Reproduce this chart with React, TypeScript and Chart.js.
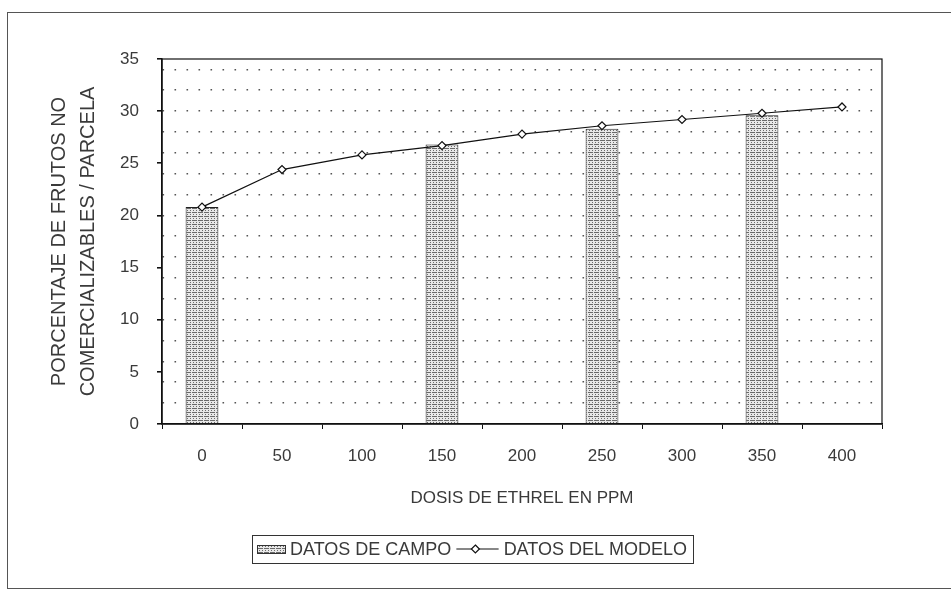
import React, { useEffect, useRef } from "react";
import { Chart, registerables } from "chart.js";

Chart.register(...registerables);

const categories = ["0", "50", "100", "150", "200", "250", "300", "350", "400"];
const fieldData = [20.8, null, null, 26.8, null, 28.3, null, 29.6, null];
const modelData = [20.8, 24.4, 25.8, 26.7, 27.8, 28.6, 29.2, 29.8, 30.4];
const fieldLabel = "DATOS DE CAMPO";
const modelLabel = "DATOS DEL MODELO";
const xTitle = "DOSIS DE ETHREL EN PPM";
const yTitle = ["PORCENTAJE DE FRUTOS NO", "COMERCIALIZABLES / PARCELA"];
const yMin = 0;
const yMax = 35;

const FONT = "'Liberation Sans', Arial, sans-serif";
const TEXT = "#3a3a3a";

function makePattern(): CanvasPattern | string {
  const c = document.createElement("canvas");
  c.width = 6;
  c.height = 4;
  const g = c.getContext("2d");
  if (!g) return "#ddd";
  g.fillStyle = "#e8e8e8";
  g.fillRect(0, 0, 6, 4);
  g.fillStyle = "#6a6a6a";
  g.fillRect(0, 0, 5, 1);
  g.fillRect(1, 2, 1, 1);
  g.fillRect(4, 2, 1, 1);
  const p = g.createPattern(c, "repeat");
  return p || "#ddd";
}

const areaBorder = {
  id: "areaBorder",
  afterDatasetsDraw(chart: any) {
    const { ctx, chartArea: a } = chart;
    ctx.save();
    ctx.strokeStyle = "#111";
    ctx.lineWidth = 1.2;
    ctx.strokeRect(a.left, a.top, a.right - a.left, a.bottom - a.top);
    ctx.restore();
  },
};

const boxLegend = {
  id: "boxLegend",
  afterDraw(chart: any) {
    const { ctx } = chart;
    const ds = chart.data.datasets;
    const x0 = 252, y0 = 535, w = 441, h = 28;
    const cy = y0 + h / 2;
    ctx.save();
    ctx.strokeStyle = "#333";
    ctx.lineWidth = 1;
    ctx.strokeRect(x0 + 0.5, y0 + 0.5, w, h);
    ctx.font = `18px ${FONT}`;
    ctx.textBaseline = "middle";
    const t1 = ctx.measureText(ds[0].label).width;
    const t2 = ctx.measureText(ds[1].label).width;
    const sw = 28;
    const gap = 5;
    const symLen = Math.max(24, w - 5 - sw - gap - t1 - gap - gap - t2 - 6);
    let x = x0 + 5;
    ctx.fillStyle = ds[0].backgroundColor;
    ctx.fillRect(x, cy - 4, sw, 8);
    ctx.strokeStyle = "#333";
    ctx.strokeRect(x + 0.5, cy - 4 + 0.5, sw, 8);
    x += sw + gap;
    ctx.fillStyle = TEXT;
    ctx.fillText(ds[0].label, x, cy + 1);
    x += t1 + gap;
    ctx.strokeStyle = "#111";
    ctx.lineWidth = 1.2;
    ctx.beginPath();
    ctx.moveTo(x, cy);
    ctx.lineTo(x + symLen, cy);
    ctx.stroke();
    ctx.fillStyle = "#fff";
    ctx.beginPath();
    const mx = x + symLen * 0.45;
    ctx.moveTo(mx, cy - 4);
    ctx.lineTo(mx + 4, cy);
    ctx.lineTo(mx, cy + 4);
    ctx.lineTo(mx - 4, cy);
    ctx.closePath();
    ctx.fill();
    ctx.stroke();
    x += symLen + gap;
    ctx.fillStyle = TEXT;
    ctx.fillText(ds[1].label, x, cy + 1);
    ctx.restore();
  },
};

export default function App() {
  const ref = useRef<HTMLCanvasElement | null>(null);

  useEffect(() => {
    if (!ref.current) return;
    const pattern = makePattern();
    const chart = new Chart(ref.current, {
      data: {
        labels: categories,
        datasets: [
          {
            type: "bar",
            label: fieldLabel,
            data: fieldData,
            backgroundColor: pattern as any,
            borderColor: "#222",
            borderWidth: 1,
            barPercentage: 0.41,
            categoryPercentage: 1,
            order: 2,
          },
          {
            type: "line",
            label: modelLabel,
            data: modelData,
            borderColor: "#111",
            borderWidth: 1.2,
            pointStyle: "rectRot",
            pointRadius: 4,
            pointBackgroundColor: "#fff",
            pointBorderColor: "#111",
            pointBorderWidth: 1.2,
            tension: 0,
            order: 1,
          },
        ],
      } as any,
      options: {
        animation: false,
        responsive: false,
        maintainAspectRatio: false,
        layout: { padding: { left: 0, top: 59, right: 69, bottom: 0 } },
        plugins: { legend: { display: false }, tooltip: { enabled: false } },
        scales: {
          x: {
            type: "category",
            offset: true,
            grid: {
              offset: true,
              drawOnChartArea: false,
              drawTicks: true,
              tickLength: 5,
              tickColor: "#111",
            },
            border: { display: true, color: "#111", width: 1.5 },
            ticks: {
              color: TEXT,
              font: { family: FONT, size: 17 },
              padding: 17,
              maxRotation: 0,
            },
            title: {
              display: true,
              text: xTitle,
              color: TEXT,
              font: { family: FONT, size: 17 },
              padding: { top: 0, bottom: 80 },
            },
            afterFit(scale: any) {
              scale.height = 165;
            },
          },
          y: {
            min: yMin,
            max: yMax,
            ticks: {
              stepSize: 1,
              autoSkip: false,
              color: TEXT,
              font: { family: FONT, size: 17 },
              padding: 18,
              callback: (v: any) => (Number(v) % 5 === 0 ? String(v) : ""),
            },
            grid: {
              drawTicks: true,
              tickLength: 5,
              lineWidth: 1.6,
              color: (c: any) => {
                const v = c.tick ? c.tick.value : -1;
                return v > 0 && v < 35 && v % 2 === 0 ? "#555" : "rgba(0,0,0,0)";
              },
              tickColor: (c: any) => {
                const v = c.tick ? c.tick.value : -1;
                return v % 5 === 0 ? "#111" : "rgba(0,0,0,0)";
              },
            },
            border: { display: true, color: "#111", width: 1.5, dash: [1.6, 10.4] },
            title: {
              display: true,
              text: yTitle,
              color: TEXT,
              font: { family: FONT, size: 20, lineHeight: 1.45 },
              padding: { top: 45, bottom: 0 },
            },
            afterFit(scale: any) {
              scale.width = 162;
            },
          },
        },
      },
      plugins: [areaBorder, boxLegend],
    });
    return () => chart.destroy();
  }, []);

  return (
    <div style={{ position: "fixed", left: 0, top: 0, width: 951, height: 589, background: "#fff" }}>
      <div
        style={{
          position: "absolute",
          left: 7,
          top: 12,
          width: 944,
          height: 575,
          borderLeft: "1px solid #555",
          borderTop: "1px solid #555",
          borderBottom: "1px solid #555",
          pointerEvents: "none",
        }}
      />
      <canvas ref={ref} width={951} height={589} style={{ position: "absolute", left: 0, top: 0 }} />
    </div>
  );
}
